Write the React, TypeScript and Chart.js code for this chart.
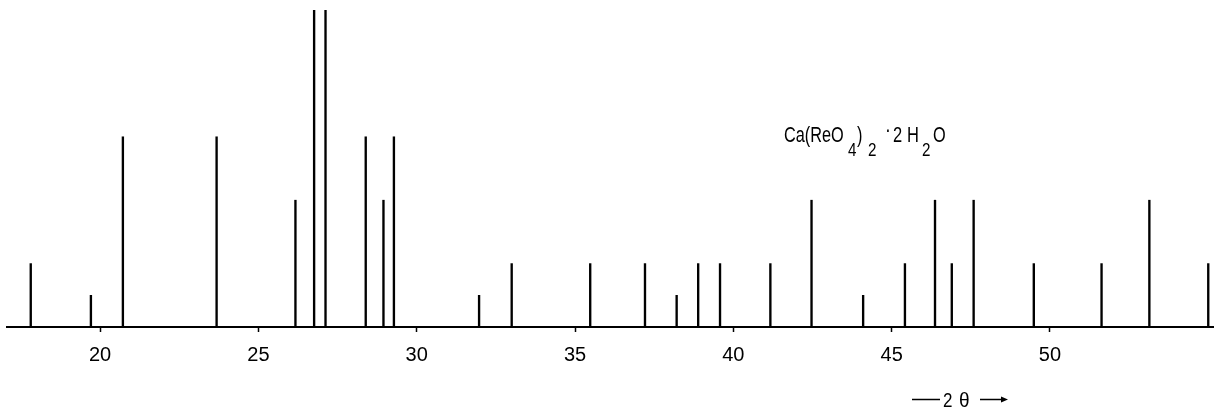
import React, { useEffect, useRef } from "react";
import { Chart, registerables } from "chart.js";

Chart.register(...registerables);

const peakPositions: number[] = [
  17.81, 19.71, 20.72, 23.68, 26.17, 26.76, 27.12, 28.39, 28.95, 29.28,
  31.97, 33.0, 35.48, 37.21, 38.21, 38.89, 39.58, 41.17, 42.47, 44.1,
  45.42, 46.37, 46.9, 47.59, 49.49, 51.63, 53.14, 55.0,
];
const peakIntensities: number[] = [
  20, 10, 60, 60, 40, 100, 100, 60, 40, 60,
  10, 20, 20, 20, 10, 20, 20, 20, 40, 10,
  20, 40, 20, 40, 20, 20, 40, 20,
];
const xTicks: number[] = [20, 25, 30, 35, 40, 45, 50];
const xMin = 17.06;
const xMax = 55.15;

const FONT = "'Liberation Sans', 'DejaVu Sans', sans-serif";

function drawNarrow(ctx: CanvasRenderingContext2D, text: string, x: number, y: number, size: number, sx: number) {
  ctx.save();
  ctx.translate(x, y);
  ctx.scale(sx, 1);
  ctx.font = `${size}px ${FONT}`;
  ctx.fillText(text, 0, 0);
  ctx.restore();
}

const annotationPlugin = {
  id: "annotations",
  afterDraw(chart: any) {
    const ctx = chart.ctx as CanvasRenderingContext2D;
    ctx.save();
    ctx.fillStyle = "#000";
    ctx.strokeStyle = "#000";
    ctx.textBaseline = "alphabetic";
    ctx.textAlign = "left";
    const mainY = 141.5;
    const subY = 155.5;
    const sx = 0.74;
    // formula label: Ca(ReO4)2 · 2H2O
    drawNarrow(ctx, "Ca(ReO", 784, mainY, 22, sx);
    drawNarrow(ctx, "4", 848, subY, 19, 0.8);
    drawNarrow(ctx, ")", 857, mainY, 22, sx);
    drawNarrow(ctx, "2", 868, subY, 19, 0.8);
    drawNarrow(ctx, "·", 885, mainY - 5, 22, 0.8);
    drawNarrow(ctx, "2", 893, mainY, 22, 0.75);
    drawNarrow(ctx, "H", 907, mainY, 22, 0.75);
    drawNarrow(ctx, "2", 922, subY, 19, 0.8);
    drawNarrow(ctx, "O", 933, mainY, 22, sx);

    // axis caption: —— 2θ ——→
    const capY = 399.5;
    drawNarrow(ctx, "2", 943, 407, 20, 0.85);
    drawNarrow(ctx, "θ", 959, 407, 20, 0.95);
    ctx.lineWidth = 1.3;
    ctx.beginPath();
    ctx.moveTo(912, capY);
    ctx.lineTo(940, capY);
    ctx.moveTo(980, capY);
    ctx.lineTo(1002, capY);
    ctx.stroke();
    ctx.beginPath();
    ctx.moveTo(1008, capY);
    ctx.lineTo(1001, capY - 3);
    ctx.lineTo(1001, capY + 3);
    ctx.closePath();
    ctx.fill();
    ctx.restore();
  },
};

export default function App() {
  const canvasRef = useRef<HTMLCanvasElement | null>(null);

  useEffect(() => {
    if (!canvasRef.current) return;
    const data = peakPositions.map((x, i) => ({ x, y: peakIntensities[i] }));
    const chart = new Chart(canvasRef.current, {
      type: "bar",
      data: {
        datasets: [
          {
            data: data as any,
            backgroundColor: "#000",
            borderWidth: 0,
            barThickness: 1.7,
            grouped: false,
          } as any,
        ],
      },
      options: {
        animation: false,
        responsive: false,
        maintainAspectRatio: false,
        layout: { padding: { left: 7, right: 13, top: 10, bottom: 35 } },
        plugins: {
          legend: { display: false },
          tooltip: { enabled: false },
          title: { display: false },
        },
        scales: {
          x: {
            type: "linear",
            min: xMin,
            max: xMax,
            offset: false,
            afterBuildTicks: (scale: any) => {
              scale.ticks = xTicks.map((v) => ({ value: v }));
            },
            grid: {
              offset: false,
              drawOnChartArea: false,
              drawTicks: true,
              tickLength: 5,
              tickWidth: 1.5,
              color: "#000",
            },
            border: { display: true, color: "#000", width: 2 },
            ticks: {
              color: "#000",
              padding: 11,
              maxRotation: 0,
              autoSkip: false,
              font: { family: FONT, size: 20 },
              callback: (v: any) => String(v),
            },
          },
          y: {
            display: false,
            min: 0,
            max: 100,
          },
        },
      } as any,
      plugins: [annotationPlugin],
    });
    return () => chart.destroy();
  }, []);

  return (
    <div style={{ position: "fixed", left: 0, top: 0, width: 1226, height: 413, background: "#fff" }}>
      <canvas ref={canvasRef} width={1226} height={413} style={{ width: 1226, height: 413, display: "block" }} />
    </div>
  );
}
